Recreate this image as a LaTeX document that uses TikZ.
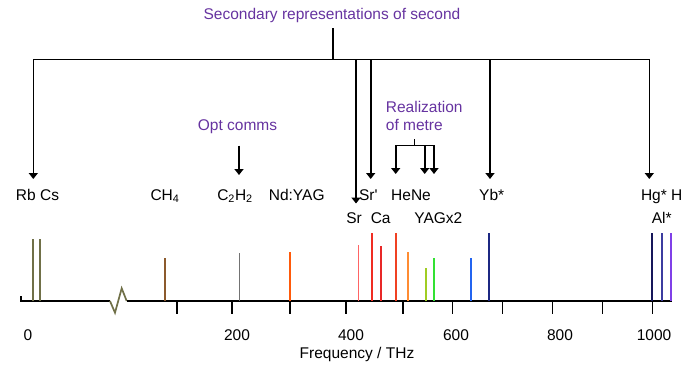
\documentclass[tikz,border=0pt]{standalone}
\usepackage{fontspec}
\setmainfont{Liberation Sans}
\usetikzlibrary{arrows.meta}
\definecolor{vpurple}{RGB}{102,51,160}
\definecolor{olivel}{RGB}{112,112,72}
\definecolor{brownl}{RGB}{140,90,45}
\definecolor{grayl}{RGB}{115,115,115}
\definecolor{ndyagc}{RGB}{255,90,10}
\definecolor{src}{RGB}{255,100,100}
\definecolor{srpc}{RGB}{240,45,35}
\definecolor{cac}{RGB}{232,40,40}
\definecolor{henec}{RGB}{240,65,35}
\definecolor{orangec}{RGB}{255,140,50}
\definecolor{ygc}{RGB}{160,205,35}
\definecolor{greenc}{RGB}{50,225,50}
\definecolor{bluec}{RGB}{35,100,240}
\definecolor{ybc}{RGB}{28,40,130}
\definecolor{hgc}{RGB}{22,22,90}
\definecolor{alc}{RGB}{60,60,160}
\definecolor{hc}{RGB}{128,64,232}
\begin{document}
\begin{tikzpicture}[x=1pt,y=-1pt,
  lbl/.style={font=\fontsize{15.5}{18}\selectfont, anchor=base, inner sep=0pt},
  plbl/.style={lbl, text=vpurple},
  conn/.style={line width=1.6pt},
  arr/.style={conn, -{Triangle[width=9pt,length=6pt]}},
  spec/.style={line width=1.8pt},
  axisline/.style={line width=1.7pt},
  tickmark/.style={line width=1.6pt}]
\useasboundingbox (0,0) rectangle (700,370);

% headings
\node[plbl] (sec) at (332,19.5) {Secondary representations of second};
\node[plbl] (opt) at (237.5,130.5) {Opt comms};
\node[plbl, anchor=base west] (real1) at (385.7,112.3) {Realization};
\node[plbl, anchor=base west] (real2) at (385.7,130) {of metre};

% species labels
\node[lbl] (rbcs) at (37.5,200.3) {Rb Cs};
\node[lbl] (ch4) at (165,200.3) {CH\textsubscript{4}};
\node[lbl] (c2h2) at (235,200.3) {C\textsubscript{2}H\textsubscript{2}};
\node[lbl] (ndyag) at (296.7,200.3) {Nd:YAG};
\node[lbl] (srp) at (368.3,200.3) {Sr\textquotesingle};
\node[lbl] (hene) at (411,200.3) {HeNe};
\node[lbl] (yb) at (491.7,200.3) {Yb*};
\node[lbl] (hgh) at (661.7,200.3) {Hg* H};
\node[lbl] (sr) at (354,223.3) {Sr};
\node[lbl] (ca) at (380.7,223.3) {Ca};
\node[lbl] (yagx2) at (438.3,223.3) {YAGx2};
\node[lbl] (al) at (661.7,223.3) {Al*};

% secondary representation bus
\coordinate (secfoot) at (332.7,28.3);
\coordinate (bL) at (33.3,59.3);
\coordinate (bR) at (649.3,59.3);
\coordinate (tRb) at (33.3,179);
\coordinate (tHg) at (649.3,179);
\coordinate (bSr) at (356,59.3);
\coordinate (tSr) at (356,203.5);
\coordinate (bSrp) at (370.7,59.3);
\coordinate (tSrp) at (370.7,179);
\coordinate (bYb) at (490,59.3);
\coordinate (tYb) at (490,179);
\draw[conn] (secfoot) -- (secfoot |- bL);
\draw[arr] (bR) -- (bL) -- (tRb);
\draw[arr] (bL) -- (bR) -- (tHg);
\draw[arr] (bSr) -- (tSr);
\draw[arr] (bSrp) -- (tSrp);
\draw[arr] (bYb) -- (tYb);

% opt comms
\coordinate (oTop) at (239,145.7);
\coordinate (oTip) at (239,175);
\draw[arr] (oTop) -- (oTip);

% realization of metre
\coordinate (rStem) at (414.3,139.3);
\coordinate (rBar) at (414.3,145.3);
\coordinate (rL) at (395.7,145.3);
\coordinate (rM) at (424.7,145.3);
\coordinate (rR) at (434,145.3);
\coordinate (rLt) at (395.7,174);
\coordinate (rMt) at (424.7,174);
\coordinate (rRt) at (434,174);
\draw[conn] (rStem) -- (rBar);
\draw[arr] (rR) -- (rL) -- (rLt);
\draw[arr] (rL) -- (rR) -- (rRt);
\draw[arr] (rM) -- (rMt);

% axis
\coordinate (a0) at (21,296);
\coordinate (a1) at (21,301);
\coordinate (z0) at (110,301);
\coordinate (z1) at (115,312.7);
\coordinate (z2) at (121.7,288.3);
\coordinate (z3) at (126.7,301);
\coordinate (aE) at (671.5,301);
\draw[axisline, line join=miter] (a0) -- (a1) -- (z0);
\draw[axisline, olivel, line join=miter] (z0) -- (z1) -- (z2) -- (z3);
\draw[axisline] (z3) -- (aE);
\foreach \x in {177,232,290,346,403,452.3,502.3,552.3,602.3,652.3}
  \draw[tickmark] (\x,301) -- (\x,314);

% tick labels
\node[lbl] (l0) at (28,340) {0};
\node[lbl] (l200) at (237,340) {200};
\node[lbl] (l400) at (351,340) {400};
\node[lbl] (l600) at (456,340) {600};
\node[lbl] (l800) at (560,340) {800};
\node[lbl] (l1000) at (654,340) {1000};
\node[lbl] (freq) at (357,358) {Frequency / THz};

% spectral lines
\draw[spec, olivel] (33.3,301) -- (33.3,239.3);
\draw[spec, olivel] (39.8,301) -- (39.8,239.3);
\draw[spec, brownl] (165,301) -- (165,258.3);
\draw[spec, grayl, line width=1.4pt] (239.7,301) -- (239.7,252.7);
\draw[spec, ndyagc] (290,301) -- (290,251.7);
\draw[spec, src] (358.5,301) -- (358.5,245);
\draw[spec, srpc] (371.7,301) -- (371.7,233.3);
\draw[spec, cac] (381,301) -- (381,245.7);
\draw[spec, henec] (395.7,301) -- (395.7,233.3);
\draw[spec, orangec] (408.3,301) -- (408.3,252);
\draw[spec, ygc] (426,301) -- (426,268.3);
\draw[spec, greenc] (434,301) -- (434,258.3);
\draw[spec, bluec] (470.8,301) -- (470.8,258.3);
\draw[spec, ybc] (489,301) -- (489,232.5);
\draw[spec, hgc] (652.3,301) -- (652.3,232.5);
\draw[spec, alc] (661.7,301) -- (661.7,232.5);
\draw[spec, hc] (670.7,301) -- (670.7,232.5);
\end{tikzpicture}
\end{document}
